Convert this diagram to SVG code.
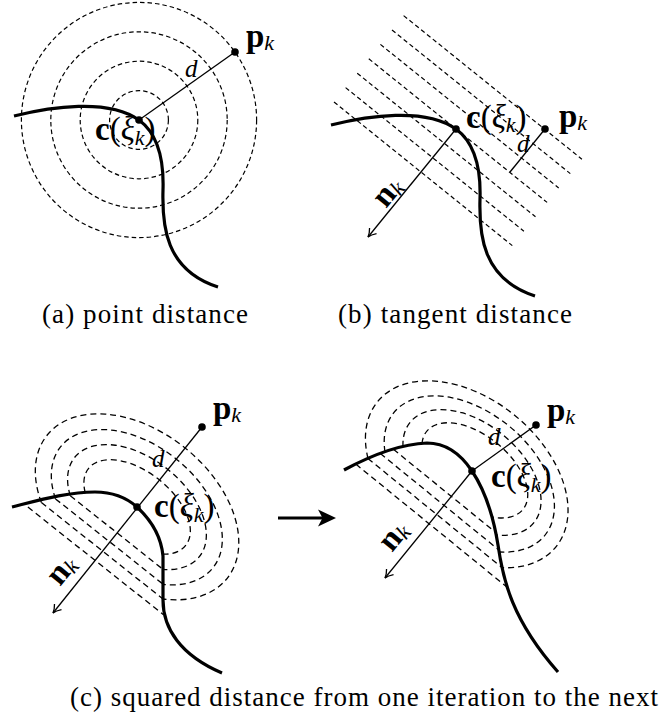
<svg xmlns="http://www.w3.org/2000/svg" width="659" height="717" viewBox="0 0 659 717">
<defs>
<style>
.curve{fill:none;stroke:#000;stroke-width:3.2;stroke-linecap:butt}
.thin{fill:none;stroke:#000;stroke-width:1.3}
.dash{fill:none;stroke:#000;stroke-width:1.2;stroke-dasharray:4.5 3}
.dash2{fill:none;stroke:#000;stroke-width:1.3;stroke-dasharray:6 4}
.dot{fill:#000}
.lbl{font-family:"Liberation Serif","DejaVu Serif",serif;font-size:33px;fill:#000}
.dl{font-family:"Liberation Serif","DejaVu Serif",serif;font-size:25px;font-style:italic;fill:#000}
.cap{font-family:"Liberation Serif","DejaVu Serif",serif;font-size:27px;fill:#000}
.b{font-weight:bold}
.i{font-style:italic}
.s{font-size:22px;font-style:italic}
</style>
<marker id="tex" markerUnits="userSpaceOnUse" viewBox="-10 -6 12 12" refX="0" refY="0" markerWidth="12" markerHeight="12" orient="auto">
<path d="M-8,-4.5 C-5,-2 -2,-0.5 0,0 C-2,0.5 -5,2 -8,4.5" fill="none" stroke="#000" stroke-width="1.3"/>
</marker>
</defs>

<!-- (a) point distance -->
<g id="panel-a">
<g id="a-levels">
<circle class="dash" cx="139" cy="120" r="29.4"/>
<circle class="dash" cx="139" cy="120" r="58.8"/>
<circle class="dash" cx="139" cy="120" r="88.2"/>
<circle class="dash" cx="139" cy="120" r="117.6"/>
</g>
<path id="a-curve" class="curve" d="M14,116 C50,107 108,98 139,120 C158,134 164,160 163,190 C162,225 165,270 218,287"/>
<g id="a-connectors">
<line class="thin" x1="139" y1="120" x2="235" y2="52"/>
</g>
<circle class="dot" cx="139" cy="120" r="3.8"/>
<circle class="dot" cx="235" cy="52" r="3.8"/>
<text class="lbl" x="246" y="47"><tspan class="b">p</tspan><tspan class="s" dy="3">k</tspan></text>
<text class="dl" x="185" y="77">d</text>
<text class="lbl" x="95" y="140"><tspan class="b">c</tspan>(<tspan class="i">ξ</tspan><tspan class="s" dy="5">k</tspan><tspan dy="-5">)</tspan></text>
<text class="cap" x="42" y="323" textLength="206" lengthAdjust="spacing">(a) point distance</text>
</g>

<!-- (b) tangent distance -->
<g id="panel-b">
<g id="b-levels">
<line class="dash" x1="403.6" y1="15.6" x2="581.9" y2="159.2"/>
<line class="dash" x1="392" y1="30" x2="570.3" y2="173.6"/>
<line class="dash" x1="380.4" y1="44.4" x2="558.7" y2="188"/>
<line class="dash" x1="368.8" y1="58.8" x2="547.1" y2="202.4"/>
<line class="dash" x1="357.2" y1="73.2" x2="535.5" y2="216.8"/>
<line class="dash" x1="345.6" y1="87.6" x2="523.9" y2="231.2"/>
<line class="dash" x1="334" y1="102" x2="512.3" y2="245.6"/>
</g>
<path id="b-curve" class="curve" transform="translate(317,9)" d="M14,116 C50,107 108,98 139,120 C158,134 164,160 163,190 C162,225 165,270 218,287"/>
<g id="b-connectors">
<line class="thin" x1="456" y1="129" x2="368" y2="237" marker-end="url(#tex)"/>
<line class="thin" x1="545" y1="129" x2="510" y2="172"/>
</g>
<circle class="dot" cx="456" cy="129" r="3.8"/>
<circle class="dot" cx="545" cy="129" r="3.8"/>
<text class="lbl" x="466" y="128"><tspan class="b">c</tspan>(<tspan class="i">ξ</tspan><tspan class="s" dy="4">k</tspan><tspan dy="-4">)</tspan></text>
<text class="lbl" x="559" y="127"><tspan class="b">p</tspan><tspan class="s" dy="3">k</tspan></text>
<text class="dl" x="517" y="152">d</text>
<text class="lbl" transform="translate(386,209) rotate(-51)"><tspan class="b">n</tspan><tspan class="s" dy="3">k</tspan></text>
<text class="cap" x="338" y="323" textLength="234" lengthAdjust="spacing">(b) tangent distance</text>
</g>

<!-- (c) left -->
<g id="panel-c1">
<g id="c1-levels">
<path class="dash2" d="M85.2,492.6 A62,35 38.4 1 1 162.8,554.2"/>
<path class="dash2" d="M70.3,495.8 A79.7,48.7 38.4 1 1 163.1,569.4"/>
<path class="dash2" d="M55.5,498.9 A97.3,62.3 38.4 1 1 163.5,584.5"/>
<path class="dash2" d="M41.4,502.6 A115,76 38.4 1 1 163,599"/>
<line class="dash2" x1="70.3" y1="495.8" x2="163.1" y2="569.4"/>
<line class="dash2" x1="55.5" y1="498.9" x2="163.5" y2="584.5"/>
<line class="dash2" x1="41.4" y1="502.6" x2="163" y2="599"/>
<line class="dash2" x1="27.9" y1="507.1" x2="163.5" y2="614.7"/>
</g>
<path id="c1-curve" class="curve" d="M12,507 C40,500 68,492 95,492 C115,492 128,499 137,507 C150,519 161,535 163,556 L163,600 C163,628 180,655 222,673"/>
<g id="c1-connectors">
<line class="thin" x1="202" y1="427" x2="53" y2="613" marker-end="url(#tex)"/>
</g>
<circle class="dot" cx="137" cy="507" r="3.8"/>
<circle class="dot" cx="202" cy="427" r="3.8"/>
<text class="lbl" x="213" y="419"><tspan class="b">p</tspan><tspan class="s" dy="3">k</tspan></text>
<text class="dl" x="152" y="467">d</text>
<text class="lbl" x="154" y="517"><tspan class="b">c</tspan>(<tspan class="i">ξ</tspan><tspan class="s" dy="5">k</tspan><tspan dy="-5">)</tspan></text>
<text class="lbl" transform="translate(60,587) rotate(-51)"><tspan class="b">n</tspan><tspan class="s" dy="3">k</tspan></text>
</g>

<!-- iteration arrow -->
<g id="iter-arrow">
<line x1="278" y1="518" x2="324" y2="518" stroke="#000" stroke-width="3"/>
<path d="M336,518 L318,509.5 L322.5,518 L318,526.5 Z" fill="#000"/>
</g>

<!-- (c) right -->
<g id="panel-c2">
<g id="c2-levels">
<path class="dash2" d="M422,443.6 A62,35 39.1 1 1 492,517"/>
<path class="dash2" d="M403,446.8 A79.7,48.7 39.1 1 1 496,535"/>
<path class="dash2" d="M385,452 A97.3,62.3 39.1 1 1 499.5,552"/>
<path class="dash2" d="M368,458.5 A115,76 39.1 1 1 502.2,567.7"/>
<line class="dash2" x1="393.4" y1="449.3" x2="495.5" y2="532.3"/>
<line class="dash2" x1="380.3" y1="453.5" x2="498.9" y2="550"/>
<line class="dash2" x1="367.9" y1="458.5" x2="502.2" y2="567.7"/>
<line class="dash2" x1="355.8" y1="464.1" x2="508.1" y2="588"/>
</g>
<path id="c2-curve" class="curve" d="M344,470 C370,456 400,444 427,443 C447,443 462,456 472,471 C486,492 494,520 498,545 C503,580 512,620 558,672"/>
<g id="c2-connectors">
<line class="thin" x1="472" y1="471" x2="385" y2="578" marker-end="url(#tex)"/>
<line class="thin" x1="472" y1="471" x2="536" y2="425"/>
</g>
<circle class="dot" cx="472" cy="471" r="3.8"/>
<circle class="dot" cx="536" cy="425" r="3.8"/>
<text class="lbl" x="547" y="421"><tspan class="b">p</tspan><tspan class="s" dy="3">k</tspan></text>
<text class="dl" x="488" y="445">d</text>
<text class="lbl" x="491" y="487"><tspan class="b">c</tspan>(<tspan class="i">ξ</tspan><tspan class="s" dy="5">k</tspan><tspan dy="-5">)</tspan></text>
<text class="lbl" transform="translate(392,553) rotate(-51)"><tspan class="b">n</tspan><tspan class="s" dy="3">k</tspan></text>
</g>

<text class="cap" x="70" y="706" textLength="588" lengthAdjust="spacing">(c) squared distance from one iteration to the next</text>
</svg>
